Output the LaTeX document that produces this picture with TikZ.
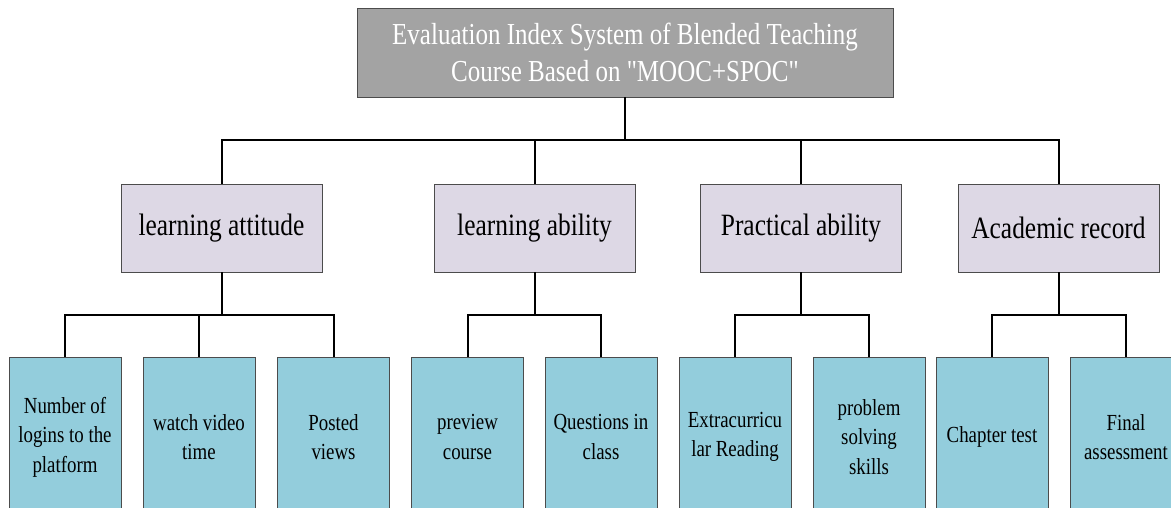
\documentclass[tikz,border=0pt]{standalone}
\usepackage{fontspec}
\setmainfont[FakeStretch=0.82]{Liberation Serif}
\newfontfamily\rootfont[FakeStretch=0.82,Ligatures=TeXOff]{Liberation Serif}
\definecolor{topgray}{HTML}{A3A3A3}
\definecolor{midlilac}{HTML}{DDD8E5}
\definecolor{leafblue}{HTML}{93CDDC}
\begin{document}
\begin{tikzpicture}[x=1pt,y=-1pt,
    box/.style={draw=black!70,line width=0.8pt,align=center,inner sep=0pt},
    root/.style={box,fill=topgray,text=white,minimum width=536pt,minimum height=89pt,
      font=\rootfont\fontsize{30.5}{37}\selectfont},
    index/.style={box,fill=midlilac,minimum width=201pt,minimum height=88pt,
      font=\fontsize{31}{37}\selectfont},
    leaf/.style={box,fill=leafblue,minimum width=112pt,minimum height=160pt,
      font=\fontsize{23}{29.5}\selectfont},
    conn/.style={line width=2pt}]
  \useasboundingbox (0,0) rectangle (1171,507);
  \clip (0,0) rectangle (1171,507);
  % top
  \node[root] (root) at (625,52.5)
    {Evaluation Index System of Blended Teaching\\Course Based on "MOOC+SPOC"};
  % indices
  \node[index] (attitude) at (221.5,228) {learning attitude};
  \node[index] (ability) at (534.5,228) {learning ability};
  \node[index] (practical) at (801,228) {Practical ability};
  \node[index] (record) at (1058.5,228) {Academic record};
  % leaves
  \node[leaf] (logins) at (65,437) {Number of\\logins to the\\platform};
  \node[leaf] (video) at (199,437) {watch video\\time};
  \node[leaf] (views) at (333.5,437) {Posted\\views};
  \node[leaf] (preview) at (467.5,437) {preview\\course};
  \node[leaf] (questions) at (601,437) {Questions in\\class};
  \node[leaf] (reading) at (735,437) {Extracurricu\\lar Reading};
  \node[leaf] (solving) at (869,437) {problem\\solving\\skills};
  \node[leaf] (chapter) at (992,437) {Chapter test};
  \node[leaf] (final) at (1126,437) {Final\\assessment};
  \begin{scope}[conn]
    \draw (root.south) -- ++(0,43) -| (attitude.north);
    \draw (root.south) -- ++(0,43) -| (ability.north);
    \draw (root.south) -- ++(0,43) -| (practical.north);
    \draw (root.south) -- ++(0,43) -| (record.north);
    \draw (attitude.south) -- ++(0,43) -| (logins.north);
    \draw (attitude.south) -- ++(0,43) -| (video.north);
    \draw (attitude.south) -- ++(0,43) -| (views.north);
    \draw (ability.south) -- ++(0,43) -| (preview.north);
    \draw (ability.south) -- ++(0,43) -| (questions.north);
    \draw (practical.south) -- ++(0,43) -| (reading.north);
    \draw (practical.south) -- ++(0,43) -| (solving.north);
    \draw (record.south) -- ++(0,43) -| (chapter.north);
    \draw (record.south) -- ++(0,43) -| (final.north);
  \end{scope}
\end{tikzpicture}
\end{document}
